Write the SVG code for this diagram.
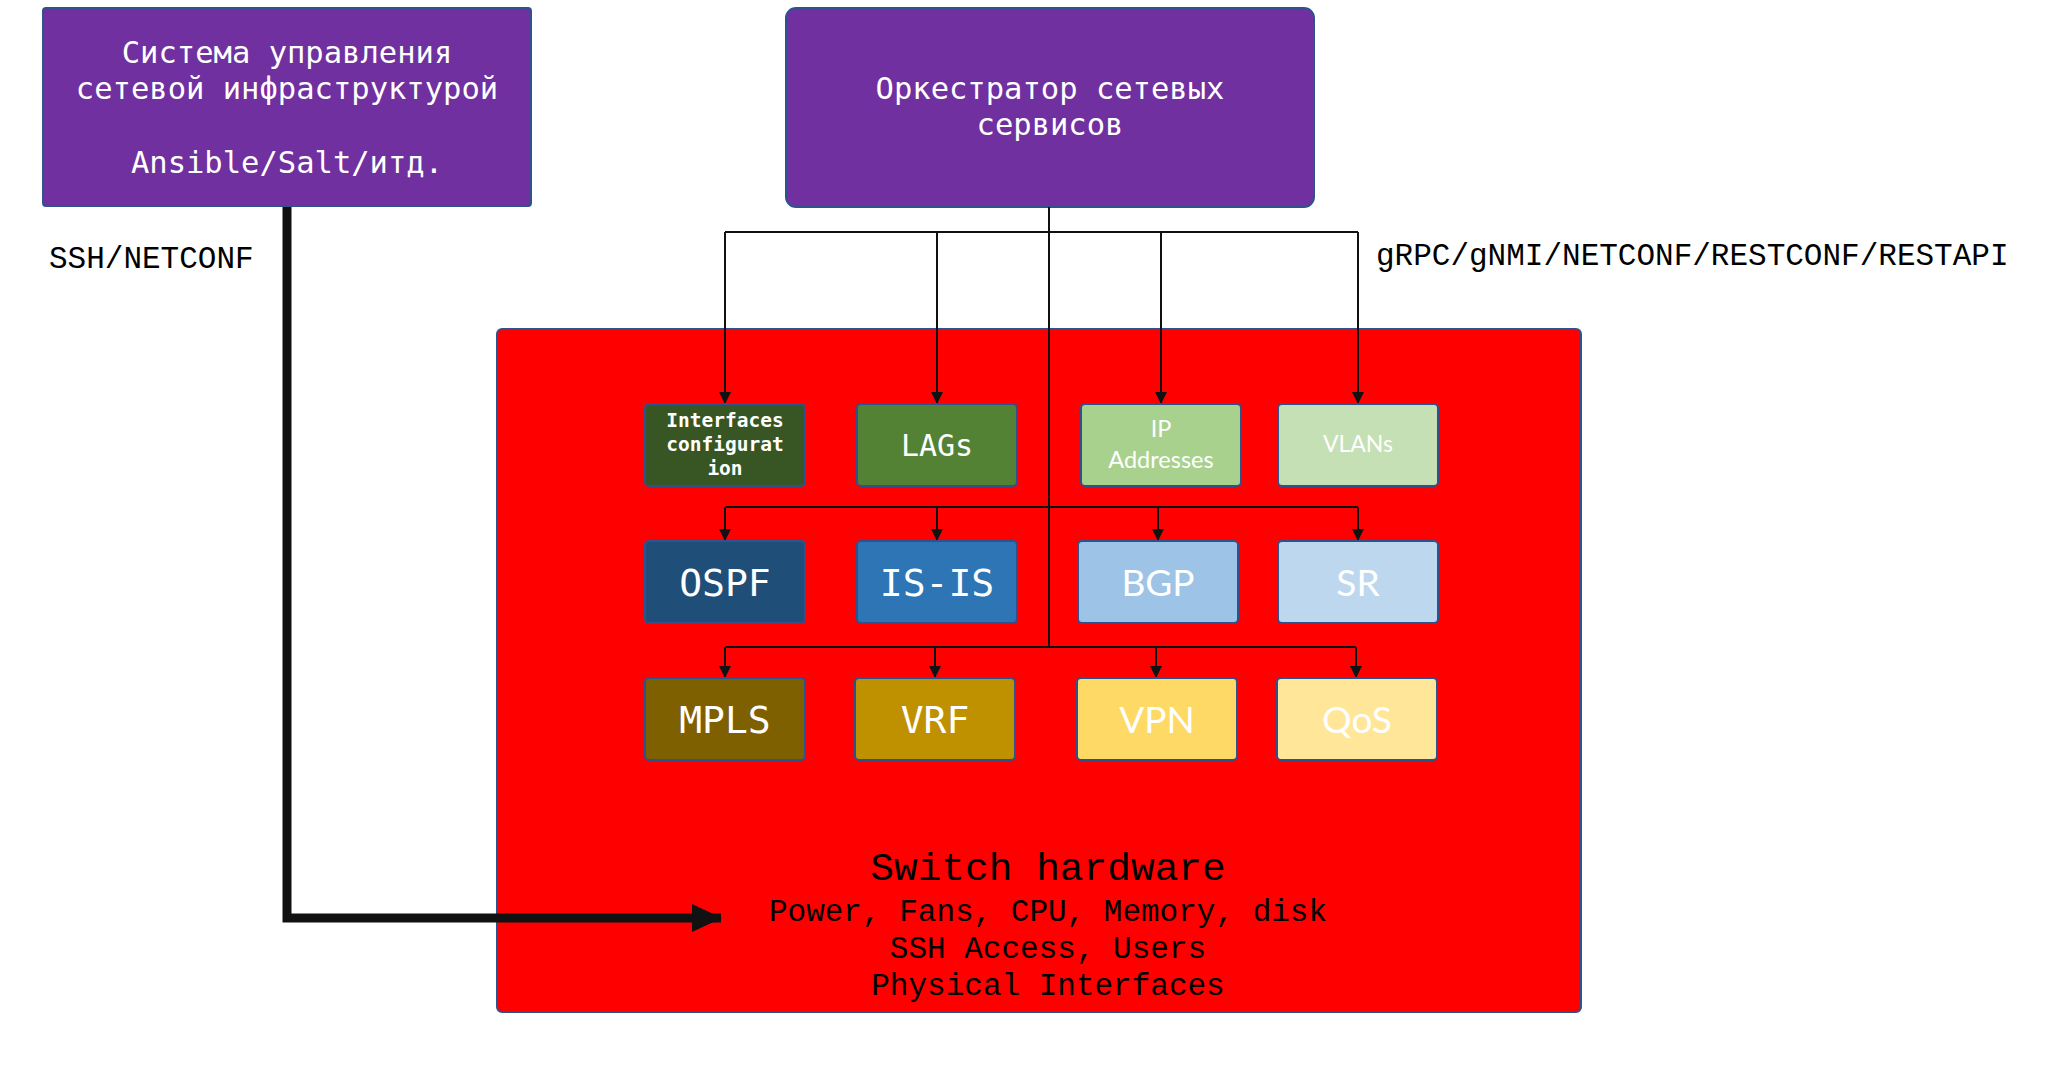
<svg xmlns="http://www.w3.org/2000/svg" width="2046" height="1080" viewBox="0 0 2046 1080">
<style>
.mono{font-family:"DejaVu Sans Mono","Liberation Mono",monospace;fill:#fff;text-anchor:middle}
.lmono{font-family:"Liberation Mono","DejaVu Sans Mono",monospace;fill:#000;text-anchor:middle}
.sans{font-family:Lato,"Open Sans","Liberation Sans",sans-serif;fill:#fff;text-anchor:middle}
.box{stroke:#2F528F;stroke-width:2}
.thin{fill:none;stroke:#111;stroke-width:2}
</style>
<defs>
<marker id="arr" viewBox="0 0 12 12" refX="12" refY="6" markerWidth="12" markerHeight="12" markerUnits="userSpaceOnUse" orient="auto">
<path d="M0,0 L12,6 L0,12 z" fill="#111"/>
</marker>
<marker id="big" viewBox="0 0 30 28" refX="29" refY="14" markerWidth="30" markerHeight="28" markerUnits="userSpaceOnUse" orient="auto">
<path d="M0,0 L30,14 L0,28 z" fill="#111"/>
</marker>
</defs>
<rect width="2046" height="1080" fill="#fff"/>

<g id="switch">
<rect class="box" x="497" y="329" width="1084" height="683" rx="5" fill="#FF0000"/>
<text class="lmono" x="1048" y="880" font-size="39.5">Switch hardware</text>
<text class="lmono" x="1048" y="921" font-size="31">Power, Fans, CPU, Memory, disk</text>
<text class="lmono" x="1048" y="958" font-size="31">SSH Access, Users</text>
<text class="lmono" x="1048" y="995" font-size="31">Physical Interfaces</text>
</g>

<g id="mgmt">
<rect class="box" x="43" y="8" width="488" height="198" rx="3" fill="#7030A0"/>
<text class="mono" x="287" y="63" font-size="30.5">Система управления</text>
<text class="mono" x="287" y="99" font-size="30.5">сетевой инфраструктурой</text>
<text class="mono" x="287" y="173" font-size="30.5">Ansible/Salt/итд.</text>
</g>

<g id="orchestrator">
<rect class="box" x="786" y="8" width="528" height="199" rx="10" fill="#7030A0"/>
<text class="mono" x="1050" y="99" font-size="30.5">Оркестратор сетевых</text>
<text class="mono" x="1050" y="135" font-size="30.5">сервисов</text>
</g>

<g id="label-ssh"><text class="lmono" x="49" y="268" font-size="31" text-anchor="start" style="text-anchor:start">SSH/NETCONF</text></g>
<g id="label-grpc"><text class="lmono" x="1376" y="265" font-size="31" style="text-anchor:start">gRPC/gNMI/NETCONF/RESTCONF/RESTAPI</text></g>

<g id="connectors">
<path d="M287,207 V918 H721" fill="none" stroke="#111" stroke-width="9" marker-end="url(#big)"/>
<path class="thin" d="M1049,207 V647" stroke-width="3"/>
<path class="thin" d="M725,232 H1358"/>
<path class="thin" d="M725,232 V404" marker-end="url(#arr)"/>
<path class="thin" d="M937,232 V404" marker-end="url(#arr)"/>
<path class="thin" d="M1161,232 V404" marker-end="url(#arr)"/>
<path class="thin" d="M1358,232 V404" marker-end="url(#arr)"/>
<path class="thin" d="M725,507 H1358"/>
<path class="thin" d="M725,507 V541" marker-end="url(#arr)"/>
<path class="thin" d="M937,507 V541" marker-end="url(#arr)"/>
<path class="thin" d="M1158,507 V541" marker-end="url(#arr)"/>
<path class="thin" d="M1358,507 V541" marker-end="url(#arr)"/>
<path class="thin" d="M725,647 H1356"/>
<path class="thin" d="M725,647 V678" marker-end="url(#arr)"/>
<path class="thin" d="M935,647 V678" marker-end="url(#arr)"/>
<path class="thin" d="M1156,647 V678" marker-end="url(#arr)"/>
<path class="thin" d="M1356,647 V678" marker-end="url(#arr)"/>
</g>

<g id="interfaces">
<rect class="box" x="645" y="404" width="160" height="82" rx="4" fill="#375623"/>
<text class="mono" x="725" y="427" font-size="19.5" font-weight="bold">Interfaces</text>
<text class="mono" x="725" y="451" font-size="19.5" font-weight="bold">configurat</text>
<text class="mono" x="725" y="475" font-size="19.5" font-weight="bold">ion</text>
</g>
<g id="lags">
<rect class="box" x="857" y="404" width="160" height="82" rx="4" fill="#548235"/>
<text class="mono" x="937" y="456" font-size="30">LAGs</text>
</g>
<g id="ip">
<rect class="box" x="1081" y="404" width="160" height="82" rx="4" fill="#A9D18E"/>
<text class="sans" x="1161" y="437" font-size="23.5">IP</text>
<text class="sans" x="1161" y="468" font-size="23.5">Addresses</text>
</g>
<g id="vlans">
<rect class="box" x="1278" y="404" width="160" height="82" rx="4" fill="#C5E0B4"/>
<text class="sans" x="1358" y="452" font-size="23">VLANs</text>
</g>

<g id="ospf">
<rect class="box" x="645" y="541" width="160" height="82" rx="4" fill="#1F4E79"/>
<text class="mono" x="725" y="596" font-size="38">OSPF</text>
</g>
<g id="isis">
<rect class="box" x="857" y="541" width="160" height="82" rx="4" fill="#2E75B6"/>
<text class="mono" x="937" y="596" font-size="38">IS-IS</text>
</g>
<g id="bgp">
<rect class="box" x="1078" y="541" width="160" height="82" rx="4" fill="#9DC3E6"/>
<text class="sans" x="1158" y="596" font-size="37">BGP</text>
</g>
<g id="sr">
<rect class="box" x="1278" y="541" width="160" height="82" rx="4" fill="#BDD7EE"/>
<text class="sans" x="1358" y="596" font-size="37">SR</text>
</g>

<g id="mpls">
<rect class="box" x="645" y="678" width="160" height="82" rx="4" fill="#7F6000"/>
<text class="mono" x="725" y="733" font-size="38">MPLS</text>
</g>
<g id="vrf">
<rect class="box" x="855" y="678" width="160" height="82" rx="4" fill="#BF9000"/>
<text class="mono" x="935" y="733" font-size="38">VRF</text>
</g>
<g id="vpn">
<rect class="box" x="1077" y="678" width="160" height="82" rx="4" fill="#FFD966"/>
<text class="sans" x="1157" y="733" font-size="37">VPN</text>
</g>
<g id="qos">
<rect class="box" x="1277" y="678" width="160" height="82" rx="4" fill="#FFE699"/>
<text class="sans" x="1357" y="733" font-size="37">QoS</text>
</g>
</svg>
